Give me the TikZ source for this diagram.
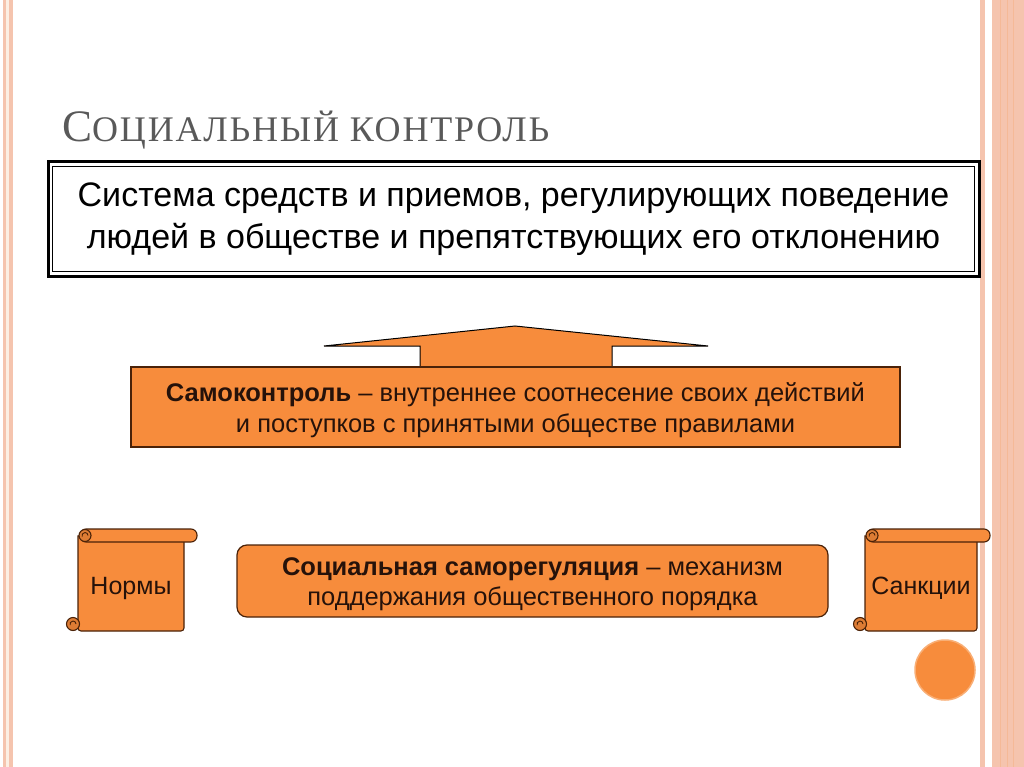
\documentclass[tikz,border=0pt]{standalone}
\usepackage{fontspec}
\setmainfont{Liberation Sans}
\newfontfamily\titlefont[LetterSpace=5]{Liberation Serif}
\definecolor{orng}{HTML}{F78C3C}
\definecolor{brn}{HTML}{4A2208}
\definecolor{inktxt}{HTML}{26120A}
\definecolor{ttlgray}{HTML}{595959}
\definecolor{stripe}{HTML}{F5C4AE}
\definecolor{cream}{HTML}{FCEFE3}
\tikzset{
  obox/.style={draw=brn, line width=1.2pt, fill=orng},
  otext/.style={text=inktxt, align=center, font=\fontsize{25.5}{31}\selectfont},
  scroll/.style={draw=brn, line width=1.1pt, fill=orng},
}
\begin{document}
\begin{tikzpicture}[x=1pt, y=-1pt]
  \useasboundingbox (0,0) rectangle (1024,767);
  \fill[white] (0,0) rectangle (1024,767);
  % side stripes
  \fill[stripe] (3,0) rectangle (13,767);
  \fill[cream] (6,0) rectangle (9,767);
  \fill[stripe] (980,0) rectangle (985,767);
  \fill[stripe] (992,0) rectangle (1024,767);
  \foreach \x in {1000,1007,1013} \draw[stripe!80!orng, line width=0.8pt] (\x,0) -- (\x,767);

  \node[anchor=base west, text=ttlgray, inner sep=0] (title) at (62,142) {\titlefont\fontsize{45}{45}\selectfont С\fontsize{36}{36}\selectfont ОЦИАЛЬНЫЙ КОНТРОЛЬ};

  \node[draw, line width=3pt, minimum width=931pt, minimum height=114pt, align=center, font=\fontsize{34}{42}\selectfont] (def) at (513.5,219) {Система средств и приемов, регулирующих поведение\\людей в обществе и препятствующих его отклонению};
  \draw[line width=1.5pt] ([shift={(6,6)}]def.north west) rectangle ([shift={(-6,-6)}]def.south east);

  % arrow up to the definition
  \draw[fill=orng, line width=1pt] (420,368) -- (420,346) -- (324,346) -- (515,326) -- (708,346) -- (612,346) -- (612,368);

  \node[obox, minimum width=769pt, minimum height=80pt] (selfctl) at (515.5,407) {};
  \node[otext, yshift=-3.5pt] (selfctltxt) at (selfctl.center) {\textbf{Самоконтроль} – внутреннее соотнесение своих действий\\и поступков с принятыми обществе правилами};

  \node[obox, rounded corners=10pt, minimum width=591pt, minimum height=72pt] (selfreg) at (532.5,581) {};
  \node[otext, yshift=-3.5pt, font=\fontsize{25.5}{30}\selectfont] (selfregtxt) at (selfreg.center) {\textbf{Социальная саморегуляция} – механизм\\поддержания общественного порядка};

  % scrolls
  \foreach \l/\r/\nm/\txt in {78/184/norms/Нормы, 865/977/sanct/Санкции} {
    \draw[scroll] (\l,536) -- (\r,536) [rounded corners=3pt] -- (\r,631) -- (\l,631) [sharp corners] -- cycle;
    \draw[scroll, fill=orng!85!brn] (\l-5,624) circle[radius=6.5pt];
    \draw[brn, line width=0.9pt] (\l-2,624) arc[start angle=0, end angle=200, radius=3pt];
    \draw[scroll, rounded corners=6pt] (\l+2,529) rectangle (\r+13,542);
    \draw[scroll, fill=orng!85!brn] (\l+7,535.5) circle[radius=6pt];
    \draw[brn, line width=0.9pt] (\l+10,535.5) arc[start angle=0, end angle=200, radius=3pt];
    \node[text=inktxt, font=\fontsize{25}{28}\selectfont] (\nm) at ({(\l+\r)/2},588) {\txt};
  }

  \draw[fill=orng, draw=orng!70!white, line width=1.5pt] (945,670) circle[radius=30pt];
\end{tikzpicture}
\end{document}
